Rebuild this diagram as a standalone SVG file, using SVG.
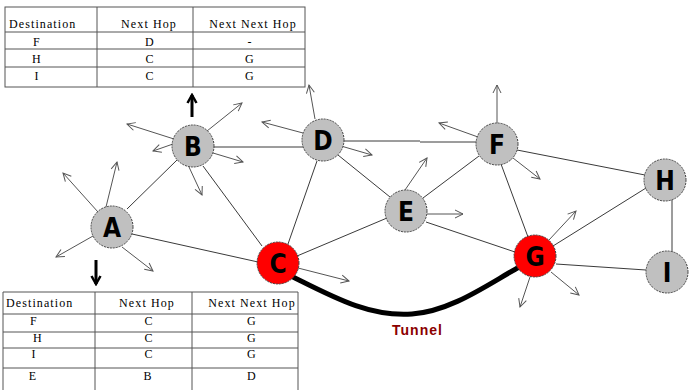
<svg xmlns="http://www.w3.org/2000/svg" width="689" height="390" viewBox="0 0 689 390">
<style>
.tb{fill:none;stroke:#555;stroke-width:1}
.tt{font-family:"Liberation Serif",serif;font-size:12px;letter-spacing:1.1px;fill:#000}
.c{text-anchor:middle}
.e{stroke:#3a3a3a;stroke-width:1;fill:none}
.a{stroke:#555;stroke-width:1;fill:none;marker-end:url(#ah)}
.n{fill:#c0c0c0;stroke:#444;stroke-width:1;stroke-dasharray:2,1}
.r{fill:#ff0000}
.lb{font-family:"DejaVu Sans Condensed","DejaVu Sans",sans-serif;font-weight:bold;font-size:26px;text-anchor:middle;fill:#000}
.big{stroke:#000;stroke-width:3;fill:none;marker-end:url(#bh)}
</style>
<defs>
<marker id="ah" markerUnits="userSpaceOnUse" viewBox="0 0 10 10" refX="9" refY="5" markerWidth="10" markerHeight="10" orient="auto">
<path d="M1,1 L9,5 L1,9" fill="none" stroke="#555" stroke-width="1"/>
</marker>
<marker id="bh" markerUnits="userSpaceOnUse" viewBox="0 0 12 12" refX="10" refY="6" markerWidth="12" markerHeight="12" orient="auto">
<path d="M2,1.5 L10,6 L2,10.5" fill="none" stroke="#000" stroke-width="2.5"/>
</marker>
</defs>
<rect width="689" height="390" fill="#fff"/>

<g id="table-top">
<rect class="tb" x="5" y="7" width="300" height="80"/>
<line class="tb" x1="97" y1="7" x2="97" y2="87"/>
<line class="tb" x1="193" y1="7" x2="193" y2="87"/>
<line class="tb" x1="5" y1="32" x2="305" y2="32"/>
<line class="tb" x1="5" y1="49" x2="305" y2="49"/>
<line class="tb" x1="5" y1="67" x2="305" y2="67"/>
<text class="tt" x="9" y="28">Destination</text>
<text class="tt c" x="149" y="28">Next Hop</text>
<text class="tt c" x="253" y="28">Next Next Hop</text>
<text class="tt c" x="37" y="46">F</text><text class="tt c" x="150" y="46">D</text><text class="tt c" x="250" y="46">-</text>
<text class="tt c" x="37" y="63">H</text><text class="tt c" x="150" y="63">C</text><text class="tt c" x="250" y="63">G</text>
<text class="tt c" x="37" y="80">I</text><text class="tt c" x="150" y="80">C</text><text class="tt c" x="250" y="80">G</text>
</g>

<g id="table-bottom">
<path class="tb" d="M3,390 V292 H298 V390 M95,292 V390 M192,292 V390 M3,314 H298 M3,332 H298 M3,348 H298 M3,368 H298"/>
<text class="tt" x="6" y="307">Destination</text>
<text class="tt c" x="147" y="307">Next Hop</text>
<text class="tt c" x="252" y="307">Next Next Hop</text>
<text class="tt c" x="34" y="325">F</text><text class="tt c" x="149" y="325">C</text><text class="tt c" x="252" y="325">G</text>
<text class="tt c" x="38" y="342">H</text><text class="tt c" x="149" y="342">C</text><text class="tt c" x="252" y="342">G</text>
<text class="tt c" x="34" y="358">I</text><text class="tt c" x="149" y="358">C</text><text class="tt c" x="252" y="358">G</text>
<text class="tt c" x="33" y="380">E</text><text class="tt c" x="148" y="380">B</text><text class="tt c" x="252" y="380">D</text>
</g>

<g id="connectors">
<line class="e" x1="127" y1="209" x2="177" y2="160"/>
<line class="e" x1="132" y1="234" x2="258" y2="262"/>
<line class="e" x1="213" y1="147" x2="305" y2="147"/>
<line class="e" x1="203" y1="166" x2="262" y2="246"/>
<line class="e" x1="317" y1="161" x2="288" y2="244"/>
<line class="e" x1="338" y1="155" x2="390" y2="197"/>
<line class="e" x1="343" y1="141" x2="420" y2="141"/>
<line class="e" x1="420" y1="142" x2="477" y2="142"/>
<line class="e" x1="297" y1="256" x2="387" y2="218"/>
<line class="e" x1="423" y1="198" x2="479" y2="156"/>
<line class="e" x1="426" y1="222" x2="515" y2="252"/>
<line class="e" x1="501" y1="164" x2="528" y2="237"/>
<line class="e" x1="517" y1="150" x2="645" y2="175"/>
<line class="e" x1="553" y1="246" x2="646" y2="188"/>
<line class="e" x1="556" y1="264" x2="646" y2="270"/>
<line class="e" x1="672" y1="196" x2="672" y2="255"/>
<path d="M293,277 C335,298 370,317 412,314 C452,311 488,284 521,266" fill="none" stroke="#000" stroke-width="5" stroke-linecap="round"/>
<line class="a" x1="98" y1="212" x2="63" y2="173"/>
<line class="a" x1="106" y1="207" x2="117" y2="162"/>
<line class="a" x1="93" y1="236" x2="56" y2="257"/>
<line class="a" x1="122" y1="247" x2="153" y2="271"/>
<line class="a" x1="174" y1="139" x2="127" y2="124"/>
<line class="a" x1="207" y1="131" x2="242" y2="103"/>
<line class="a" x1="173" y1="144" x2="153" y2="151"/>
<line class="a" x1="213" y1="153" x2="243" y2="162"/>
<line class="a" x1="189" y1="167" x2="202" y2="195"/>
<line class="a" x1="315" y1="119" x2="309" y2="85"/>
<line class="a" x1="303" y1="133" x2="262" y2="122"/>
<line class="a" x1="341" y1="146" x2="372" y2="155"/>
<line class="a" x1="405" y1="190" x2="427" y2="158"/>
<line class="a" x1="427" y1="214" x2="463" y2="214"/>
<line class="a" x1="298" y1="268" x2="349" y2="281"/>
<line class="a" x1="497" y1="123" x2="497" y2="85"/>
<line class="a" x1="478" y1="137" x2="439" y2="123"/>
<line class="a" x1="513" y1="158" x2="540" y2="179"/>
<line class="a" x1="549" y1="240" x2="576" y2="211"/>
<line class="a" x1="551" y1="272" x2="579" y2="295"/>
<line class="a" x1="530" y1="277" x2="520" y2="307"/>
<line class="big" x1="192" y1="117" x2="192" y2="95"/>
<line class="big" x1="96" y1="260" x2="96" y2="284"/>
</g>

<g id="node-A"><circle class="n" cx="112" cy="227" r="21"/><text class="lb" x="112" y="237">A</text></g>
<g id="node-B"><circle class="n" cx="193" cy="146" r="21"/><text class="lb" x="193" y="156">B</text></g>
<g id="node-C"><circle class="n r" cx="278" cy="263" r="21"/><text class="lb" x="278" y="273">C</text></g>
<g id="node-D"><circle class="n" cx="323" cy="140" r="21"/><text class="lb" x="323" y="150">D</text></g>
<g id="node-E"><circle class="n" cx="406" cy="211" r="21"/><text class="lb" x="406" y="221">E</text></g>
<g id="node-F"><circle class="n" cx="497" cy="144" r="21"/><text class="lb" x="497" y="154">F</text></g>
<g id="node-G"><circle class="n r" cx="535" cy="256" r="21"/><text class="lb" x="535" y="266">G</text></g>
<g id="node-H"><circle class="n" cx="665" cy="180" r="21"/><text class="lb" x="665" y="190">H</text></g>
<g id="node-I"><circle class="n" cx="667" cy="272" r="21"/><text class="lb" x="667" y="282">I</text></g>

<text id="tunnel-label" x="417" y="335" font-family="'Liberation Sans',sans-serif" font-weight="bold" font-size="14" fill="#8b0000" text-anchor="middle" textLength="50">Tunnel</text>
</svg>
